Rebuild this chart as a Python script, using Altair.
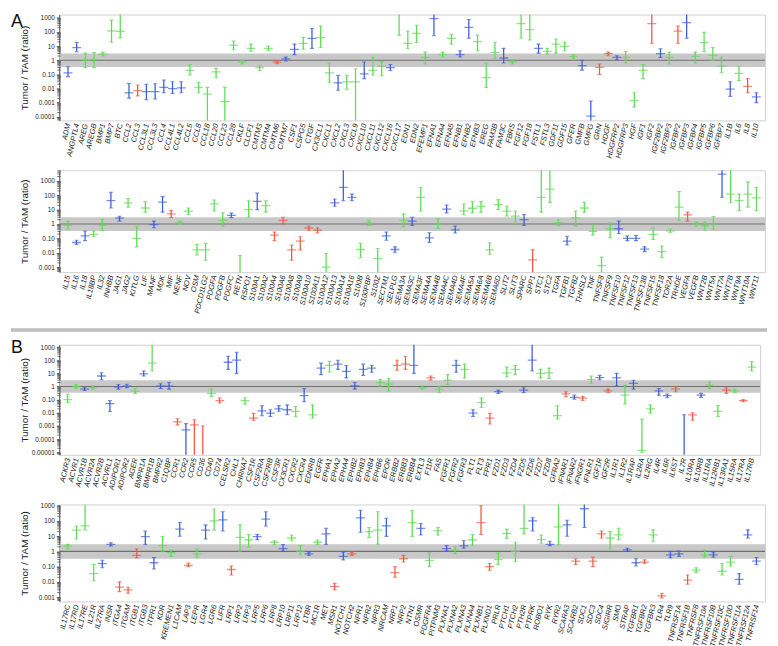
import altair as alt
import pandas as pd

# ---------------- colours / groups ----------------
GROUPS = ["b", "g", "r"]
GROUP_COLORS = ["#3f5fd8", "#5fdc55", "#ef5a46"]
BAND = [1 / 3, 3]
UNITY = [1.0]

TICK_VALUES = [1000, 100, 10, 1, 0.1, 0.01, 0.001, 0.0001, 0.00001]
TICK_LABELS = ["1000", "100", "10", "1", "0.10", "0.01", "0.001", "0.0001", "0.00001"]
MINOR_MULTS = [2, 3, 4, 5, 6, 7, 8, 9]
DECADES = [1e-6, 1e-5, 1e-4, 1e-3, 1e-2, 1e-1, 1, 10, 100, 1000]

PANEL_A = ["A"]
PANEL_B = ["B"]

# ---------------- Row 1 (A, top) ----------------
genes1 = ["ADM","ANGPTL4","AREG","AREGB","BMP1","BMP7","BTC","CCL2","CCL3","CCL3L1","CCL3L3","CCL4","CCL4L1","CCL4L2","CCL5","CCL8","CCL18","CCL20","CCL23","CCL28","CKLF","CLCF1","CMTM3","CMTM4","CMTM6","CMTM7","CSF1","CSPG5","CTGF","CX3CL1","CXCL1","CXCL2","CXCL3","CXCL9","CXCL10","CXCL11","CXCL12","CXCL16","CXCL17","EDN1","EDN2","EFEMP1","EFNA1","EFNA4","EFNA5","EFNB1","EFNB2","EFNB3","EREG","FAM3B","FAM3C","FBRS","FGF12","FGF18","FSTL1","FSTL3","GDF11","GDF15","GFER","GMFB","GMFG","GRN","HDGF","HDGFRP2","HDGFRP3","HGF","IGF1","IGF2","IGF2BP2","IGF2BP3","IGFBP2","IGFBP3","IGFBP4","IGFBP5","IGFBP6","IGFBP7","IL1B","IL6","IL8","IL10"]
col1 = list("bbggggg" "brbbbbb" "gggggg" "gggg" "rbbgbg" "gbggbggbg" "gggbggbbgg" "gbgg" "gbgggg" "bbrrbg" "ggrbgrbgggg" "bgrb")
val1 = [0.13,8,1.0,1.1,2.7,120,110,0.005,0.007,0.006,0.006,0.012,0.01,0.011,0.19,0.012,0.004,0.15,0.0012,12,0.75,7,0.3,7,0.75,1.24,6,16,36,40,0.13,0.025,0.03,0.03,0.11,0.19,0.38,0.3,1e5,16,80,1.6,900,2.5,36,2.5,210,21,0.06,3.6,1.45,0.75,400,150,7,4.2,14,9.5,1.9,0.42,0.00011,0.32,3.0,1.6,1.6,0.0014,0.19,400,3.0,1.6,117,470,1.9,18,2.2,0.38,0.009,0.12,0.014,0.0026]
lo1 = [0.07,4,0.3,0.3,2.0,19,40,0.0021,0.003,0.0016,0.0018,0.005,0.0045,0.005,0.09,0.005,1e-6,0.06,1e-6,5.5,0.55,4.3,0.19,5,0.58,0.9,2.5,6,7,8,0.026,0.0076,0.009,1e-6,0.05,0.09,0.08,0.19,60,6.5,18,0.55,55,1.7,14,1.7,36,4.7,0.012,1.4,0.65,0.55,36,28,3.2,2.8,3.2,4.7,1.4,0.2,1e-6,0.1,2.1,1.1,0.65,0.0005,0.05,16,1.6,0.55,16,36,0.65,4.2,1.0,0.13,0.0028,0.037,0.005,0.001]
hi1 = [0.35,18,3.2,3.5,3.8,700,1e5,0.023,0.018,0.02,0.022,0.04,0.03,0.03,0.5,0.027,0.012,0.26,0.012,23,0.95,14,0.45,10,0.95,1.7,14,42,180,260,0.65,0.085,0.085,0.25,0.76,1.7,0.8,0.5,1e6,117,300,3.8,1e5,3.8,70,4.7,770,60,0.65,19,7,1.0,1e5,1e5,14,7,32,18,2.5,1.0,0.0013,0.55,3.8,2.1,4.2,0.005,0.5,1e5,6.5,3.8,260,1e5,3.8,95,8,1.7,0.03,0.38,0.05,0.005]

# ---------------- Row 2 (A, bottom) ----------------
genes2 = ["IL15","IL16","IL18","IL18BP","IL32","INHBB","JAG1","JAG2","KITLG","LIF","MANF","MDK","MIF","NENF","NOV","OSM","PDCD1LG2","PDGFA","PDGFB","PDGFC","RETN","RSPO1","S100A1","S100A2","S100A4","S100A6","S100A8","S100A9","S100A10","S100A11","S100A12","S100A13","S100A14","S100A16","S100B","S100PBP","S100Z","SECTM1","SELPLG","SEMA3A","SEMA3C","SEMA3F","SEMA4A","SEMA4B","SEMA4C","SEMA4D","SEMA4F","SEMA5A","SEMA6A","SEMA6B","SEMA6D","SLIT2","SLIT3","SPARC","SPP1","STC1","STC2","TGFA","TGFB1","TGFB2","THNSL2","TNF","TNFSF8","TNFSF9","TNFSF10","TNFSF12","TNFSF13","TNFSF13B","TNFSF15","TNFSF18","TOR2A","TRHDE","VEGFA","VEGFB","WNT2B","WNT5A","WNT7A","WNT7B","WNT9A","WNT10A","WNT11"]
col2 = list("gbbggbbggg" "bbrgggggg" "bggbg" "rrrrrr" "gbbbggg" "bbgbgbgbb" "ggggggg" "b" "rgggbgggg" "gbbbbgggg" "rgggbgggg")
val2 = [0.8,0.052,0.15,0.19,0.8,42,2.6,30,0.1,13,0.9,33,5.1,1.2,8,0.016,0.016,25,1.8,4,1e-5,10,38,19,0.17,1.8,0.016,0.065,0.53,0.37,0.001,30,350,72,0.017,1.17,0.004,0.15,0.017,1.8,1.6,72,0.11,1.0,11,0.39,8,12.5,17,0.016,22,8,3.6,2.0,0.0032,72,270,1.2,0.065,2.7,13,0.31,0.0013,0.47,0.47,0.1,0.1,0.018,0.19,0.012,0.33,15,4.4,1.0,0.73,1.0,2900,120,42,120,65]
lo2 = [0.45,0.038,0.07,0.13,0.37,13,1.6,15,0.026,6.7,0.55,6.7,2.8,0.95,4.6,0.007,0.003,8,0.7,2.8,1e-6,3,10,6.7,0.07,1.0,0.003,0.016,0.37,0.24,1e-6,17,42,42,0.0045,0.8,1e-6,0.075,0.011,0.63,0.8,8,0.052,0.48,6,0.24,4.4,6,6.7,0.008,10,3.6,1.0,0.8,1e-6,6.7,32,0.73,0.035,0.73,6.7,0.17,0.0004,0.11,0.22,0.07,0.07,0.012,0.085,0.0045,0.25,1.8,1.6,0.7,0.37,0.43,72,30,8.5,15,8.5]
hi2 = [1.6,0.075,0.33,0.33,2.1,160,3.5,60,0.7,36,1.6,80,8.5,1.6,13,0.038,0.045,47,6,5.7,0.0065,42,140,42,0.28,3.0,0.035,0.13,0.73,0.55,0.009,55,1e5,120,0.045,1.8,0.02,0.28,0.026,5.1,3.0,350,0.25,2.3,21,0.73,25,36,36,0.05,50,17,8,4.6,0.016,1e5,1e5,2.0,0.14,8,32,1.0,0.005,1.17,1.6,0.15,0.16,0.026,0.53,0.03,0.43,185,6.7,1.4,1.4,3.3,1e5,1e5,120,850,350]

# ---------------- Row 3 (B, top) ----------------
genes3 = ["ACKR3","ACVR1","ACVR1B","ACVR2A","ACVR2B","ACVRL1","ADIPOR1","ADIPOR2","AGER","BMPR1A","BMPR1B","BMPR2","C1QBP","CCR1","CCR2","CCR5","CD36","CD40","CD74","CELSR2","CHL1","CHRNA7","CSF1R","CSF2RA","CSF2RB","CSF3R","CX3CR1","CXCR2","CXCR4","EDNRB","EGFR","EPHA1","EPHA2","EPHA4","EPHB2","EPHB3","EPHB4","EPHB6","EPOR","ERBB2","ERBB3","ERBB4","EXTL3","F11R","FAS","FGFR1","FGFR2","FGFR3","FLT1","FLT3","FPR1","FZD1","FZD3","FZD4","FZD5","FZD6","FZD7","FZD8","GFRA2","IFNAR1","IFNAR2","IFNGR1","IFNLR1","IGF1R","IGF2R","IL1R1","IL1R2","IL1RAP","IL2RA","IL2RG","IL4R","IL6R","IL6ST","IL7R","IL10RA","IL10RB","IL11RA","IL12RB1","IL13RA1","IL15RA","IL17RA","IL17RB"]
col3 = list("ggbgbbbbgbgbb" "rbrrgr" "bbgr" "bbbbgbg" "bgbbbbbgg" "rrbgrggbg" "bgr" "bggbbgg" "grbr" "gbrbgbggbbr" "brbggrgrg")
val3 = [0.1,1.0,0.63,0.8,6.3,0.05,0.95,1.05,0.45,9,60,1.05,1.05,0.002,0.0005,0.0012,1e-8,0.3,0.085,70,100,0.085,0.004,0.014,0.0095,0.02,0.017,0.013,0.2,0.007,25,40,50,14,1.1,20,25,2.0,1.5,40,50,40,0.8,4.5,0.6,3,40,20,0.0095,0.06,0.004,0.4,11,20,0.53,100,10,11,0.006,0.27,0.15,0.13,3.3,4.7,0.47,4.5,0.22,1.7,1.4e-5,0.02,0.47,0.2,0.63,1e-8,0.007,0.22,1.25,0.013,0.53,0.47,0.085,30]
lo3 = [0.06,0.7,0.5,0.6,3.3,0.0125,0.63,0.8,0.3,6.3,15,0.7,0.63,0.0012,1e-8,1e-8,1e-9,0.17,0.055,20,10,0.045,0.0027,0.006,0.0053,0.013,0.007,0.005,0.07,0.004,8,12,20,4.5,0.63,7,12,1.1,0.45,17,20,10,0.63,3,0.35,1.4,12,4.5,0.0053,0.025,0.0014,0.3,5.3,8,0.35,15,4.5,4,0.0034,0.17,0.11,0.085,1.7,3.3,0.35,1.1,0.047,0.63,1e-5,0.0095,0.22,0.14,0.4,1e-9,0.0027,0.15,0.7,0.0053,0.3,0.35,0.07,15]
hi3 = [0.25,1.4,0.85,1.1,11,0.085,1.4,1.5,0.7,15,1e5,1.6,2.0,0.0035,0.0015,0.003,0.001,0.63,0.13,200,400,0.14,0.009,0.034,0.017,0.035,0.04,0.03,0.7,0.04,60,80,100,40,2.0,50,40,3.5,4,100,200,1e5,1.1,6.3,0.95,8,100,50,0.017,0.13,0.009,0.53,30,40,0.8,1e5,20,25,0.034,0.4,0.22,0.17,6.3,7,0.63,10,1.25,3,0.0034,0.04,0.7,0.27,0.95,0.007,0.01,0.3,2.2,0.035,0.8,0.63,0.1,80]

# ---------------- Row 4 (B, bottom) ----------------
genes4 = ["IL17RC","IL17RD","IL17RE","IL21R","IL27RA","INSR","ITGA4","ITGAM","ITGB1","ITGB3","ITPR1","KDR","KREMEN1","L1CAM","LAP3","LEPR","LGR4","LGR6","LIFR","LRP1","LRP2","LRP3","LRP5","LRP6","LRP8","LRP10","LRP11","LRP12","LTBR","MC1R","MET","MSR1","NOTCH1","NOTCH2","NPR1","NPR2","NPR3","NRCAM","NRP1","NRP2","NTN1","OSMR","PDGFRA","PITPNM3","PLXNA1","PLXNA2","PLXNA3","PLXNA4","PLXNB1","PLXND1","PRLR","PTCH1","PTCH2","PTH2R","PTPRK","ROBO1","RYK","RYR2","SCARA3","SCARB2","SDC1","SDC3","SDC4","SIGIRR","SMO","STRAP","TGFBR1","TGFBR2","TGFBR3","TLR4","TLR9","TNFRSF1A","TNFRSF1B","TNFRSF8","TNFRSF10A","TNFRSF10B","TNFRSF10C","TNFRSF10D","TNFRSF11A","TNFRSF12A","TNFRSF14"]
col4 = list("ggggbbrrrbb" "ggbrgbgbrggbb" "gbggbgbrbr" "bggbrrgbgg" "bgbgrrggggb" "gbgbrbrrggb" "brgrbbr" "ggbggbbb")
val4 = [2.2,25,47,0.035,0.16,2.9,0.0045,0.003,0.55,9.3,0.18,2.4,0.82,29,0.12,0.7,25,100,116,0.065,8.3,5.6,9.3,130,4,1.5,7.6,1.0,0.7,4,14,0.005,0.47,0.7,160,20,25,47,0.04,0.33,78,33,0.26,22,1.5,1.2,2.3,5.6,78,0.1,0.3,15,1.0,33,100,5.9,2.9,41,55,0.23,630,0.23,14,7.6,12,1.25,0.18,0.2,12,0.0012,0.6,0.7,0.013,0.059,0.6,0.6,0.05,0.2,0.0145,12,0.23]
lo4 = [1.5,6.5,26,0.012,0.085,2.3,0.0023,0.0018,0.39,2.9,0.07,1.05,0.47,10,0.1,0.42,6.5,25,22,0.028,1.05,1.9,5.9,47,2.8,1.0,5,0.6,0.55,2.8,2.9,0.003,0.28,0.55,18,8.3,3,9.7,0.02,0.2,9.7,12,0.1,12,1.05,0.7,1.6,2.4,13,0.058,0.14,7.2,0.21,14,22,3.4,2.4,2.8,10,0.14,37,0.1,7.6,1.5,5.9,1.0,0.11,0.16,4.6,0.0009,0.39,0.47,0.007,0.042,0.42,0.42,0.028,0.11,0.007,7.6,0.14]
hi4 = [2.9,47,1e5,0.14,0.26,3.7,0.01,0.0045,1.5,22,0.39,9.3,1.25,78,0.17,1.5,55,600,400,0.11,55,13,13,400,5,2.8,12,2.4,0.9,5.6,33,0.008,0.9,0.9,500,37,400,150,0.1,0.55,500,67,0.8,37,2.4,2.0,5,13,1000,0.16,0.8,29,4,1e5,160,12,4.6,1e5,110,0.33,1e5,0.42,22,20,33,1.6,0.33,0.28,26,0.0018,1.0,1.05,0.028,0.085,1.25,0.9,0.16,0.47,0.035,26,0.39]

FONT = "Liberation Sans"


def label_expr():
    parts = []
    for v, l in zip(TICK_VALUES, TICK_LABELS):
        parts.append(f"datum.value > {v / 3.1623:.10g} ? '{l}' : ")
    return "".join(parts) + "''"


LABEL_EXPR = label_expr()


def make_row(genes, cols, vals, los, his, ymin, ymax, width, height,
             top_anchor=None, bottom_anchor=None, panel=None, panel_y=0.0,
             separator_y=None):
    df = pd.DataFrame({"gene": genes, "grp": cols, "val": vals, "lo": los, "hi": his})
    ticks = [t for t in TICK_VALUES if ymin <= t <= ymax]
    yscale = alt.Scale(type="log", domain=[ymin, ymax], nice=False)
    yaxis = alt.Axis(values=ticks, labelExpr=LABEL_EXPR, title="Tumor / TAM (ratio)",
                     grid=False, domainColor="#555", tickColor="#555", tickSize=3,
                     labelFontSize=6.5, labelFont=FONT, labelColor="#222", labelPadding=2,
                     titleFont=FONT, titleFontSize=10, titleFontWeight="normal",
                     titleColor="#222", titlePadding=4, minExtent=26, maxExtent=26)
    xaxis = alt.Axis(labelAngle=-77, labelFont=FONT, labelFontStyle="italic",
                     labelFontSize=7.5, labelColor="#222", ticks=False, domain=False,
                     labelPadding=3, labelOverlap=False, labelLimit=200, grid=False)
    xenc = alt.X("gene:N", sort=genes, scale=alt.Scale(type="point", padding=1),
                 axis=xaxis, title=None)
    cenc = alt.Color("grp:N", scale=alt.Scale(domain=GROUPS, range=GROUP_COLORS), legend=None)

    def Y(field):
        return alt.Y(f"{field}:Q", scale=yscale, axis=yaxis)

    layers = []
    band = alt.Chart(pd.DataFrame({"lo": [BAND[0]], "hi": [BAND[1]]})).mark_rect(
        color="#c8c8c8").encode(y=Y("lo"), y2=alt.Y2("hi:Q"), x=alt.value(0), x2=alt.value(width))
    layers.append(band)
    unity = alt.Chart(pd.DataFrame({"lo": UNITY})).mark_rule(color="#707070", strokeWidth=1.2).encode(
        y=Y("lo"), x=alt.value(0), x2=alt.value(width))
    layers.append(unity)
    minor = [m * d for d in DECADES for m in MINOR_MULTS if ymin <= m * d <= ymax]
    minors = alt.Chart(pd.DataFrame({"lo": minor})).mark_rule(color="#555", strokeWidth=0.8).encode(
        y=Y("lo"), x=alt.value(-2), x2=alt.value(1.5))
    layers.append(minors)

    base = alt.Chart(df)
    layers.append(base.mark_rule(clip=True, strokeWidth=1.3).encode(
        x=xenc, y=Y("lo"), y2=alt.Y2("hi:Q"), color=cenc))
    layers.append(base.mark_tick(clip=True, size=9, thickness=1.3).encode(
        x=xenc, y=Y("val"), color=cenc))
    layers.append(base.mark_tick(clip=True, size=4, thickness=1.1).encode(
        x=xenc, y=Y("lo"), color=cenc))
    layers.append(base.mark_tick(clip=True, size=4, thickness=1.1).encode(
        x=xenc, y=Y("hi"), color=cenc))

    anchor_df = pd.DataFrame({"k": [0]})
    layers.append(alt.Chart(anchor_df).mark_rule(strokeOpacity=0, color="white").encode(
        x=alt.value(-49), x2=alt.value(-48), y=alt.value(height / 2)))
    if top_anchor is not None:
        layers.append(alt.Chart(anchor_df).mark_rule(strokeOpacity=0, color="white").encode(
            x=alt.value(0), x2=alt.value(1), y=alt.value(top_anchor)))
    if bottom_anchor is not None:
        layers.append(alt.Chart(anchor_df).mark_rule(strokeOpacity=0, color="white").encode(
            x=alt.value(0), x2=alt.value(1), y=alt.value(bottom_anchor)))
    if panel is not None:
        layers.append(alt.Chart(pd.DataFrame({"t": panel})).mark_text(
            align="left", baseline="top", font=FONT, fontSize=18, color="#111").encode(
            x=alt.value(-49), y=alt.value(panel_y), text="t:N"))
    if separator_y is not None:
        layers.append(alt.Chart(anchor_df).mark_rule(color="#bdbdbd", strokeWidth=3.4).encode(
            x=alt.value(-49), x2=alt.value(width + 2), y=alt.value(separator_y)))

    return alt.layer(*layers).properties(width=width, height=height)


r1 = make_row(genes1, col1, val1, lo1, hi1, 5.52e-5, 1726, 716, 107.4,
              top_anchor=-1.3, bottom_anchor=156.4, panel=PANEL_A, panel_y=-1.3)
r2 = make_row(genes2, col2, val2, lo2, hi2, 4.53e-4, 5430, 716, 103.3,
              separator_y=162)
r3 = make_row(genes3, col3, val3, lo3, hi3, 6.38e-6, 1490, 711, 111.6,
              top_anchor=-11.3, bottom_anchor=157.6, panel=PANEL_B, panel_y=-6.1)
r4 = make_row(genes4, col4, val4, lo4, hi4, 5.19e-4, 1200, 716, 98.4)

chart = alt.vconcat(r1, r2, r3, r4, spacing=0).properties(padding=0).configure_view(
    stroke="#cfcfcf", strokeWidth=1)

chart.save("out.html", embed_options={"renderer": "svg", "actions": False})
